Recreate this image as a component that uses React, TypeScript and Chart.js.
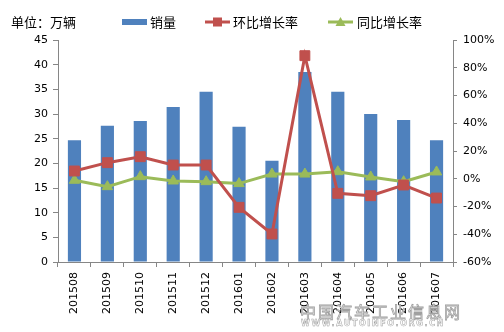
import React, { useEffect, useRef } from "react";
import { Chart, registerables } from "chart.js";

Chart.register(...registerables);

const categories = ["201508", "201509", "201510", "201511", "201512", "201601", "201602", "201603", "201604", "201605", "201606", "201607"];
const sales = [24.7, 27.6, 28.6, 31.4, 34.5, 27.4, 20.5, 38.5, 34.5, 30.0, 28.8, 24.7];
const momGrowth = [5.6, 11.6, 15.9, 9.9, 9.9, -20.6, -39.8, 88.7, -10.5, -12.2, -4.5, -13.9];
const yoyGrowth = [-1.1, -5.7, 1.5, -1.6, -2.1, -3.5, 3.4, 3.4, 5.1, 1.3, -2.1, 4.9];
const leftTicks = [0, 45, 5];
const rightTicks = [-60, 100, 20];
const unitLabel = "单位：万辆";
const seriesNames = ["销量", "环比增长率", "同比增长率"];
const watermarkCn = "中国汽车工业信息网";
const watermarkEn = "WWW.AUTOINFO.ORG.CN";

const BLUE = "#4F81BD";
const RED = "#C0504D";
const GREEN = "#9BBB59";
const AXIS = "#868686";
const CJK = "'Noto Sans CJK SC', 'DejaVu Sans', sans-serif";

const legendPlugin = {
  id: "customLegend",
  afterDraw(chart: any) {
    const ctx = chart.ctx;
    ctx.save();
    ctx.textBaseline = "middle";
    ctx.fillStyle = "#000";
    ctx.font = `13px ${CJK}`;
    const y = 22;
    ctx.fillText(unitLabel, 11, y);
    // bar legend
    ctx.fillStyle = BLUE;
    ctx.fillRect(122, 19, 25, 6);
    ctx.fillStyle = "#000";
    ctx.fillText(seriesNames[0], 150, y);
    // red line legend
    ctx.strokeStyle = RED;
    ctx.lineWidth = 3;
    ctx.beginPath();
    ctx.moveTo(205, y);
    ctx.lineTo(230, y);
    ctx.stroke();
    ctx.fillStyle = RED;
    ctx.fillRect(213, y - 4.5, 9, 9);
    ctx.fillStyle = "#000";
    ctx.fillText(seriesNames[1], 233, y);
    // green line legend
    ctx.strokeStyle = GREEN;
    ctx.beginPath();
    ctx.moveTo(328, y);
    ctx.lineTo(353, y);
    ctx.stroke();
    ctx.fillStyle = GREEN;
    ctx.beginPath();
    ctx.moveTo(340.5, y - 5);
    ctx.lineTo(345.5, y + 4);
    ctx.lineTo(335.5, y + 4);
    ctx.closePath();
    ctx.fill();
    ctx.fillStyle = "#000";
    ctx.fillText(seriesNames[2], 357, y);
    ctx.restore();
  },
};

export default function App() {
  const ref = useRef<HTMLCanvasElement | null>(null);
  useEffect(() => {
    if (!ref.current) return;
    const chart = new Chart(ref.current, {
      type: "bar",
      data: {
        labels: categories,
        datasets: [
          {
            type: "bar",
            label: seriesNames[0],
            data: sales,
            backgroundColor: BLUE,
            yAxisID: "y",
            barPercentage: 0.4,
            categoryPercentage: 1,
            order: 3,
          },
          {
            type: "line",
            label: seriesNames[2],
            data: yoyGrowth,
            borderColor: GREEN,
            backgroundColor: GREEN,
            borderWidth: 3,
            pointStyle: "triangle",
            pointRadius: 6,
            pointBorderWidth: 1,
            yAxisID: "y1",
            order: 2,
          },
          {
            type: "line",
            label: seriesNames[1],
            data: momGrowth,
            borderColor: RED,
            backgroundColor: RED,
            borderWidth: 3,
            pointStyle: "rect",
            pointRadius: 7,
            pointBorderWidth: 1,
            yAxisID: "y1",
            order: 1,
          },
        ],
      },
      options: {
        responsive: false,
        animation: false,
        devicePixelRatio: 1,
        layout: { padding: { top: 40, left: 0, right: 0, bottom: 0 } },
        plugins: { legend: { display: false }, tooltip: { enabled: false } },
        scales: {
          x: {
            offset: true,
            grid: { offset: true, drawOnChartArea: false, drawTicks: true, tickLength: 5, color: AXIS },
            border: { display: true, color: AXIS },
            ticks: {
              minRotation: 90,
              maxRotation: 90,
              padding: 5,
              color: "#000",
              font: { family: "'DejaVu Sans', sans-serif", size: 11 },
              autoSkip: false,
            },
            afterFit(scale: any) {
              scale.height = 70;
            },
          },
          y: {
            position: "left",
            min: leftTicks[0],
            max: leftTicks[1],
            ticks: {
              stepSize: leftTicks[2],
              padding: 5,
              color: "#000",
              font: { family: "'DejaVu Sans', sans-serif", size: 11 },
            },
            grid: { drawOnChartArea: false, drawTicks: true, tickLength: 5, color: AXIS },
            border: { display: true, color: AXIS },
            afterFit(scale: any) {
              scale.width = 58;
            },
          },
          y1: {
            position: "right",
            min: rightTicks[0],
            max: rightTicks[1],
            ticks: {
              stepSize: rightTicks[2],
              padding: 6,
              color: "#000",
              font: { family: "'DejaVu Sans', sans-serif", size: 11 },
              callback: (v: any) => `${v}%`,
            },
            grid: { drawOnChartArea: false, drawTicks: true, tickLength: 4, color: AXIS },
            border: { display: true, color: AXIS },
            afterFit(scale: any) {
              scale.width = 51;
            },
          },
        },
      },
      plugins: [legendPlugin],
    } as any);
    return () => chart.destroy();
  }, []);

  return (
    <div style={{ position: "absolute", left: 0, top: 0, width: 504, height: 332, background: "#fff", overflow: "hidden" }}>
      <canvas ref={ref} width={504} height={332} style={{ display: "block" }} />
      <div
        style={{
          position: "absolute",
          left: 300,
          top: 302,
          fontFamily: CJK,
          fontSize: 16,
          lineHeight: "18px",
          letterSpacing: 2,
          color: "#fff",
          WebkitTextStroke: "0.8px #a0a0a0",
          whiteSpace: "nowrap",
        }}
      >
        {watermarkCn}
      </div>
      <div
        style={{
          position: "absolute",
          left: 301,
          top: 319,
          fontFamily: "'DejaVu Sans', sans-serif",
          fontSize: 8,
          fontWeight: "bold",
          lineHeight: "10px",
          letterSpacing: 1.6,
          color: "#fff",
          WebkitTextStroke: "0.5px #a0a0a0",
          whiteSpace: "nowrap",
        }}
      >
        {watermarkEn}
      </div>
    </div>
  );
}
